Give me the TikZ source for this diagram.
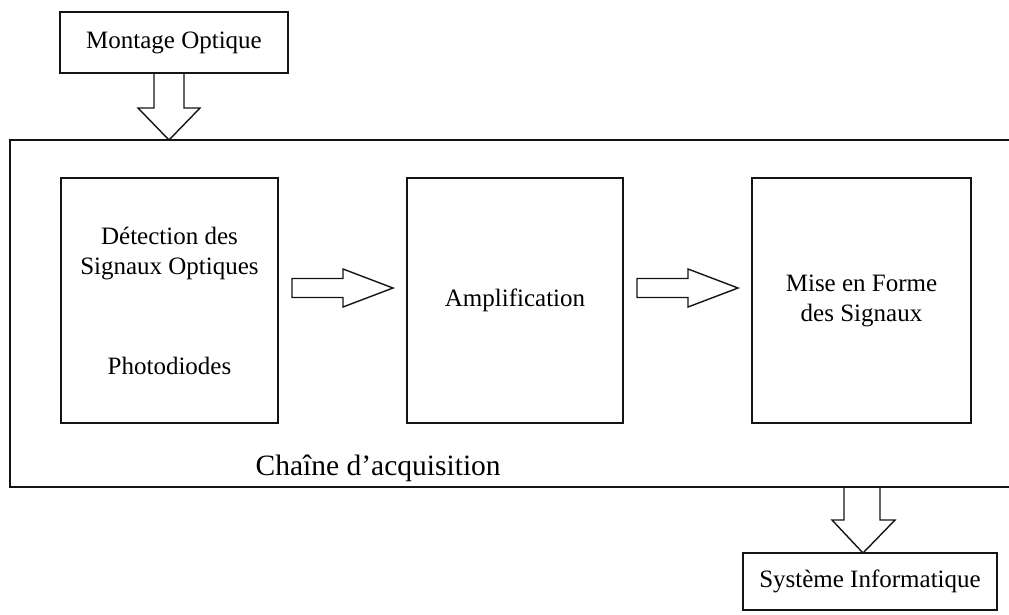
\documentclass[tikz,border=0pt]{standalone}
\usepackage{fontspec}
\setmainfont{Liberation Serif}
\usetikzlibrary{positioning, calc}
\definecolor{linea}{HTML}{141414}

\begin{document}
\begin{tikzpicture}[x=1pt, y=-1pt, line width=1.4pt,
    caja/.style={draw=linea, inner sep=0pt, outer sep=0pt, align=center,
                 font=\fontsize{25}{30}\selectfont},
    bloque/.style={draw=linea, line join=miter}]
  \clip (0,0) rectangle (1009,614);
  \node[caja, minimum width=1040pt, minimum height=347pt] (cadre) at (530,313.5) {};
  \node[caja, minimum width=228pt, minimum height=61pt] (montage) at (174,42.5) {Montage Optique};
  \node[caja, minimum width=217pt, minimum height=245pt] (det) at (169.5,300.5)
       {Détection des\\Signaux Optiques\\[70pt]Photodiodes};
  \node[caja, minimum width=216pt, minimum height=245pt, right=129pt of det] (amp) {Amplification};
  \node[caja, minimum width=219pt, minimum height=245pt, right=129pt of amp] (mise) {Mise en Forme\\des Signaux};
  \node[caja, minimum width=254pt, minimum height=57pt] (sys) at (870,581.5) {Système Informatique};
  \node[anchor=base west, inner sep=0pt, font=\fontsize{29.5}{35}\selectfont] (titulo) at (255,475) {Chaîne d’acquisition};
  \foreach \a/\b in {det/amp, amp/mise}
    \draw[bloque] ($(\a.east)+(14,-22)$) -- ++(51,0) -- ++(0,-9.5) -- ($(\b.west)+(-14,-12.5)$)
                  -- ++(-50,19) -- ++(0,-9.5) -- ++(-51,0) -- cycle;
  \draw[bloque] ($(montage.south)+(-20,0)$) -- ++(0,35) -- ++(-16,0) -- ++(31,32)
                -- ++(31,-32) -- ++(-16,0) -- ++(0,-35) -- cycle;
  \draw[bloque] ($(sys.north)+(-7,0)$) -- ++(-31,-33) -- ++(12,0) -- ++(0,-33)
                -- ++(36,0) -- ++(0,33) -- ++(15,0) -- cycle;
\end{tikzpicture}
\end{document}
